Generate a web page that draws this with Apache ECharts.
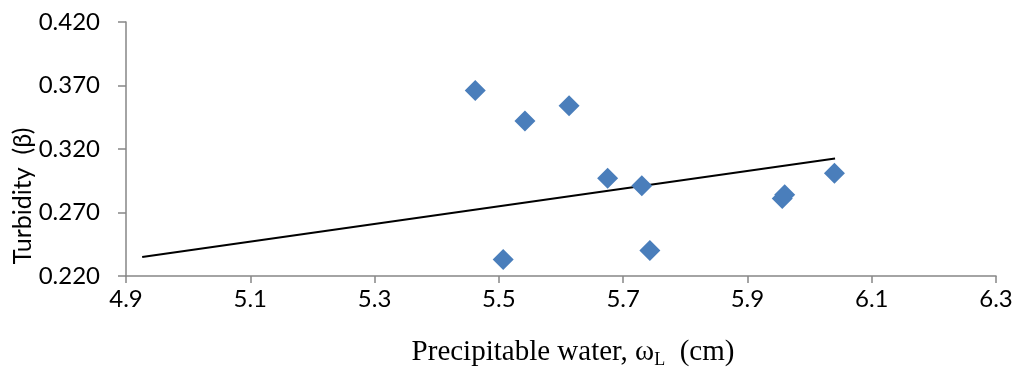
<!DOCTYPE html>
<html>
<head>
<meta charset="utf-8">
<script src="https://cdn.jsdelivr.net/npm/echarts@6/dist/echarts.min.js"></script>
<style>
html,body{margin:0;padding:0;background:#fff;}
#chart{width:1014px;height:367px;}
</style>
</head>
<body>
<div id="chart"></div>
<script>
// Scatter data: precipitable water (cm) vs turbidity (beta)
const waterValues = [5.462, 5.542, 5.613, 5.675, 5.730, 5.507, 5.743, 5.956, 5.960, 6.040];
const turbidityValues = [0.366, 0.342, 0.354, 0.297, 0.291, 0.233, 0.240, 0.281, 0.284, 0.301];
// Linear trendline end points
const trendX = [4.926, 6.041];
const trendY = [0.235, 0.3126];
// Axis tick settings
const xTicks = {min: 4.9, max: 6.3, step: 0.2};
const yTicks = {min: 0.22, max: 0.42, step: 0.05};
// Titles
const xTitle = ['Precipitable water, ω', 'L', '  (cm)'];
const yTitle = 'Turbidity  (β)';

const chart = echarts.init(document.getElementById('chart'), null, {renderer: 'canvas'});
const labelFont = 'Lato';
const axisColor = '#868686';

chart.setOption({
  animation: false,
  backgroundColor: '#ffffff',
  grid: {left: 126, right: 18, top: 22, bottom: 91, containLabel: false, outerBoundsMode: 'none'},
  xAxis: {
    type: 'value',
    min: xTicks.min, max: xTicks.max, interval: xTicks.step,
    axisLine: {show: true, onZero: false, lineStyle: {color: axisColor, width: 1.5}},
    axisTick: {show: true, length: 7, lineStyle: {color: axisColor, width: 1.5}},
    splitLine: {show: false},
    axisLabel: {color: '#000', fontFamily: labelFont, fontSize: 24, margin: 11,
      formatter: v => v.toFixed(1)}
  },
  yAxis: {
    type: 'value',
    min: yTicks.min, max: yTicks.max, interval: yTicks.step,
    axisLine: {show: true, lineStyle: {color: axisColor, width: 1.5}},
    axisTick: {show: true, length: 8, lineStyle: {color: axisColor, width: 1.5}},
    splitLine: {show: false},
    axisLabel: {color: '#000', fontFamily: labelFont, fontSize: 24, margin: 26,
      formatter: v => v.toFixed(3)}
  },
  graphic: [{
    type: 'text',
    x: 23, y: 196,
    rotation: Math.PI / 2,
    style: {text: yTitle, fontFamily: labelFont, fontSize: 25, fill: '#000',
      align: 'center', verticalAlign: 'middle'}
  }, {
    type: 'text',
    x: 573, y: 352,
    style: {
      text: '{a|' + xTitle[0] + '}{s|' + xTitle[1] + '}{a|' + xTitle[2] + '}',
      align: 'center', verticalAlign: 'middle',
      rich: {
        a: {fontFamily: 'Liberation Serif', fontSize: 29, fill: '#000'},
        s: {fontFamily: 'Liberation Serif', fontSize: 18, fill: '#000', padding: [16, 0, 0, 0]}
      }
    }
  }],
  series: [
    {
      type: 'line',
      data: trendX.map((x, i) => [x, trendY[i]]),
      showSymbol: false,
      symbol: 'none',
      lineStyle: {color: '#000', width: 2},
      silent: true,
      z: 1
    },
    {
      type: 'scatter',
      data: waterValues.map((x, i) => [x, turbidityValues[i]]),
      symbol: 'diamond',
      symbolSize: [21, 21],
      itemStyle: {color: '#4A7EBB', opacity: 1},
      z: 2
    }
  ]
});
</script>
</body>
</html>
